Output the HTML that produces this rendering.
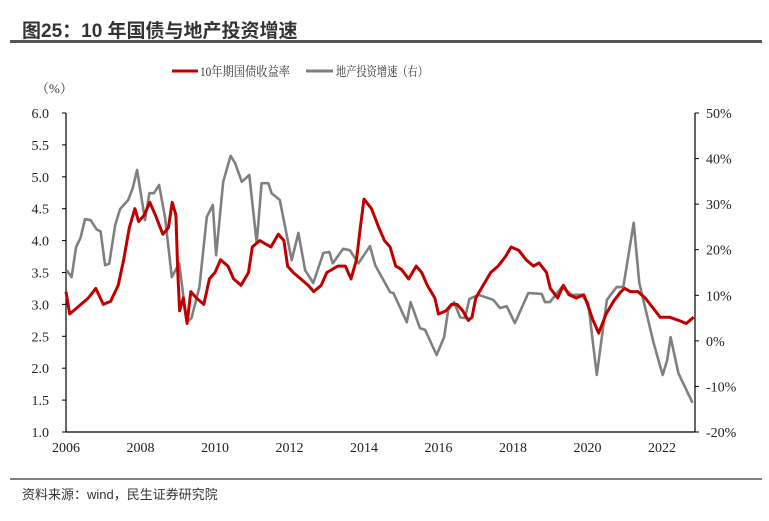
<!DOCTYPE html>
<html><head><meta charset="utf-8">
<style>
body{margin:0;background:#fff;width:769px;height:516px;overflow:hidden;font-family:"Liberation Sans","Noto Sans CJK SC",sans-serif;}
svg text{font-family:"Liberation Serif","Noto Serif CJK SC",serif;}
</style></head><body>
<svg width="769" height="516" xmlns="http://www.w3.org/2000/svg" id="chart">
<text x="22" y="37" font-size="19" font-weight="bold" fill="#333" style="font-family:'Liberation Sans','Noto Sans CJK SC',sans-serif">图25：10 年国债与地产投资增速</text>
<rect x="10" y="40" width="752" height="3" fill="#555"/>
<g>
<line x1="172" y1="71" x2="198" y2="71" stroke="#c00000" stroke-width="3"/>
<text x="200" y="76" font-size="13" fill="#333" textLength="90" lengthAdjust="spacingAndGlyphs">10年期国债收益率</text>
<line x1="306" y1="71" x2="333" y2="71" stroke="#808080" stroke-width="3"/>
<text x="336" y="76" font-size="13" fill="#333" textLength="92" lengthAdjust="spacingAndGlyphs">地产投资增速（右）</text>
</g>
<text x="36" y="93" font-size="13" fill="#333">（%）</text>
<g id="axes"></g>
<g id="series"></g>
<line x1="10" y1="479" x2="762" y2="479" stroke="#555" stroke-width="1.5"/>
<text x="22" y="499" font-size="13" fill="#333" style="font-family:'Liberation Sans','Noto Sans CJK SC',sans-serif">资料来源：wind，民生证券研究院</text>
</svg>
<script>
const leftTicks=[6.0,5.5,5.0,4.5,4.0,3.5,3.0,2.5,2.0,1.5,1.0];
const rightTicks=[50,40,30,20,10,0,-10,-20];
const yearTicks=[2006,2008,2010,2012,2014,2016,2018,2020,2022];
const yieldDates=[2006.0,2006.1,2006.3,2006.6,2006.8,2007.0,2007.2,2007.4,2007.55,2007.7,2007.85,2007.95,2008.1,2008.25,2008.4,2008.6,2008.75,2008.85,2008.95,2009.0,2009.05,2009.15,2009.25,2009.35,2009.5,2009.7,2009.85,2010.0,2010.15,2010.35,2010.5,2010.7,2010.9,2011.0,2011.2,2011.5,2011.7,2011.85,2011.95,2012.1,2012.3,2012.5,2012.65,2012.85,2013.0,2013.3,2013.5,2013.65,2013.8,2013.9,2014.0,2014.2,2014.4,2014.55,2014.7,2014.85,2015.0,2015.2,2015.4,2015.55,2015.7,2015.9,2016.0,2016.2,2016.35,2016.5,2016.65,2016.8,2016.9,2017.0,2017.2,2017.4,2017.6,2017.8,2017.95,2018.15,2018.35,2018.55,2018.7,2018.9,2019.0,2019.2,2019.35,2019.5,2019.7,2019.9,2020.0,2020.15,2020.3,2020.5,2020.7,2020.9,2021.0,2021.15,2021.35,2021.55,2021.75,2021.95,2022.2,2022.45,2022.65,2022.85];
const yieldValues=[3.2,2.85,2.95,3.1,3.25,3.0,3.05,3.3,3.7,4.2,4.5,4.3,4.4,4.6,4.4,4.1,4.2,4.6,4.4,3.5,2.9,3.1,2.7,3.2,3.1,3.0,3.4,3.5,3.7,3.6,3.4,3.3,3.5,3.9,4.0,3.9,4.1,4.0,3.6,3.5,3.4,3.3,3.2,3.3,3.5,3.6,3.6,3.4,3.7,4.2,4.65,4.5,4.2,4.0,3.9,3.6,3.55,3.4,3.6,3.5,3.3,3.1,2.85,2.9,3.0,3.0,2.9,2.75,2.8,3.1,3.3,3.5,3.6,3.75,3.9,3.85,3.7,3.6,3.65,3.5,3.25,3.1,3.3,3.15,3.1,3.15,3.0,2.75,2.55,2.85,3.05,3.2,3.25,3.2,3.2,3.1,2.95,2.8,2.8,2.75,2.7,2.8];
const investDates=[2006.02,2006.15,2006.27,2006.39,2006.51,2006.66,2006.82,2006.93,2007.05,2007.16,2007.32,2007.45,2007.67,2007.79,2007.91,2008.12,2008.24,2008.36,2008.50,2008.66,2008.84,2009.04,2009.24,2009.37,2009.58,2009.78,2009.94,2010.03,2010.22,2010.42,2010.54,2010.72,2010.92,2011.12,2011.25,2011.43,2011.52,2011.74,2012.06,2012.24,2012.42,2012.64,2012.91,2013.07,2013.16,2013.44,2013.62,2013.85,2014.16,2014.30,2014.70,2014.79,2015.15,2015.25,2015.50,2015.64,2015.95,2016.15,2016.26,2016.42,2016.58,2016.71,2016.83,2017.07,2017.47,2017.65,2017.83,2018.05,2018.41,2018.77,2018.86,2018.99,2019.31,2019.58,2019.84,2020.02,2020.25,2020.41,2020.52,2020.78,2020.96,2021.24,2021.39,2021.77,2022.02,2022.14,2022.23,2022.44,2022.82];
const investValues=[15.5,14,20.6,22.6,26.7,26.5,24.5,24,16.6,16.9,25.4,28.9,30.9,33.5,37.5,26.5,32.4,32.4,34.2,27,14,17,4.1,5,11.8,27.2,29.8,18.8,34.9,40.6,39,34.9,36.4,21.5,34.6,34.6,32.4,30.9,17.7,23.7,15.5,12.7,19.3,19.5,17,20.2,19.9,17,20.8,16.6,10.7,10.5,4.1,8.5,2.8,2.4,-3.1,0.8,6.8,8.5,5.2,5,9.2,10.1,9,7.2,7.6,3.9,10.5,10.3,8.5,8.5,11.8,10.1,10.1,8.3,-7.5,2.4,9,11.8,11.8,25.9,12.7,-0.3,-7.5,-4.2,0.8,-7.1,-13.6];

const X0=66,X1=695,YT=113,YB=432;
const xS=y=>X0+(y-2006)*37.25;
const yL=v=>YT+(6-v)*(YB-YT)/5;
const yR=p=>YT+(50-p)*(YB-YT)/70;
const NS="http://www.w3.org/2000/svg";
const axes=document.getElementById('axes'),series=document.getElementById('series');
function mk(tag,attrs,parent){const e=document.createElementNS(NS,tag);for(const k in attrs)e.setAttribute(k,attrs[k]);parent.appendChild(e);return e;}
let e;
e=mk('line',{x1:X0,y1:YT,x2:X0,y2:YB,stroke:'#000','stroke-width':1.2},axes);


e=mk('line',{x1:X1,y1:YT,x2:X1,y2:YB,stroke:'#000','stroke-width':1.2},axes);


e=mk('line',{x1:X0,y1:YB,x2:X1,y2:YB,stroke:'#000','stroke-width':1.2},axes);


leftTicks.forEach(v=>{const y=yL(v);
 e=mk('line',{x1:X0-4,y1:y,x2:X0,y2:y,stroke:'#000'},axes);
 
 
 e=mk('text',{x:X0-17,y:y+5,'font-size':14,'text-anchor':'end',fill:'#222'},axes);e.textContent=v.toFixed(1);
 
 
});
rightTicks.forEach(p=>{const y=yR(p);
 e=mk('line',{x1:X1,y1:y,x2:X1+4,y2:y,stroke:'#000'},axes);
 
 
 e=mk('text',{x:X1+11,y:y+5,'font-size':14,fill:'#222'},axes);e.textContent=p+'%';
 
 
});
yearTicks.forEach(yr=>{const x=xS(yr);
 e=mk('text',{x:x,y:YB+20,'font-size':14,'text-anchor':'middle',fill:'#222'},axes);e.textContent=yr;
 
 
});
const pts=(d,v,f)=>d.map((t,i)=>xS(t).toFixed(1)+','+f(v[i]).toFixed(1)).join(' ');
e=mk('polyline',{points:pts(investDates,investValues,yR),fill:'none',stroke:'#808080','stroke-width':2.6,'stroke-linejoin':'round'},series);


e=mk('polyline',{points:pts(yieldDates,yieldValues,yL),fill:'none',stroke:'#c00000','stroke-width':3,'stroke-linejoin':'round'},series);


</script>
</body></html>
